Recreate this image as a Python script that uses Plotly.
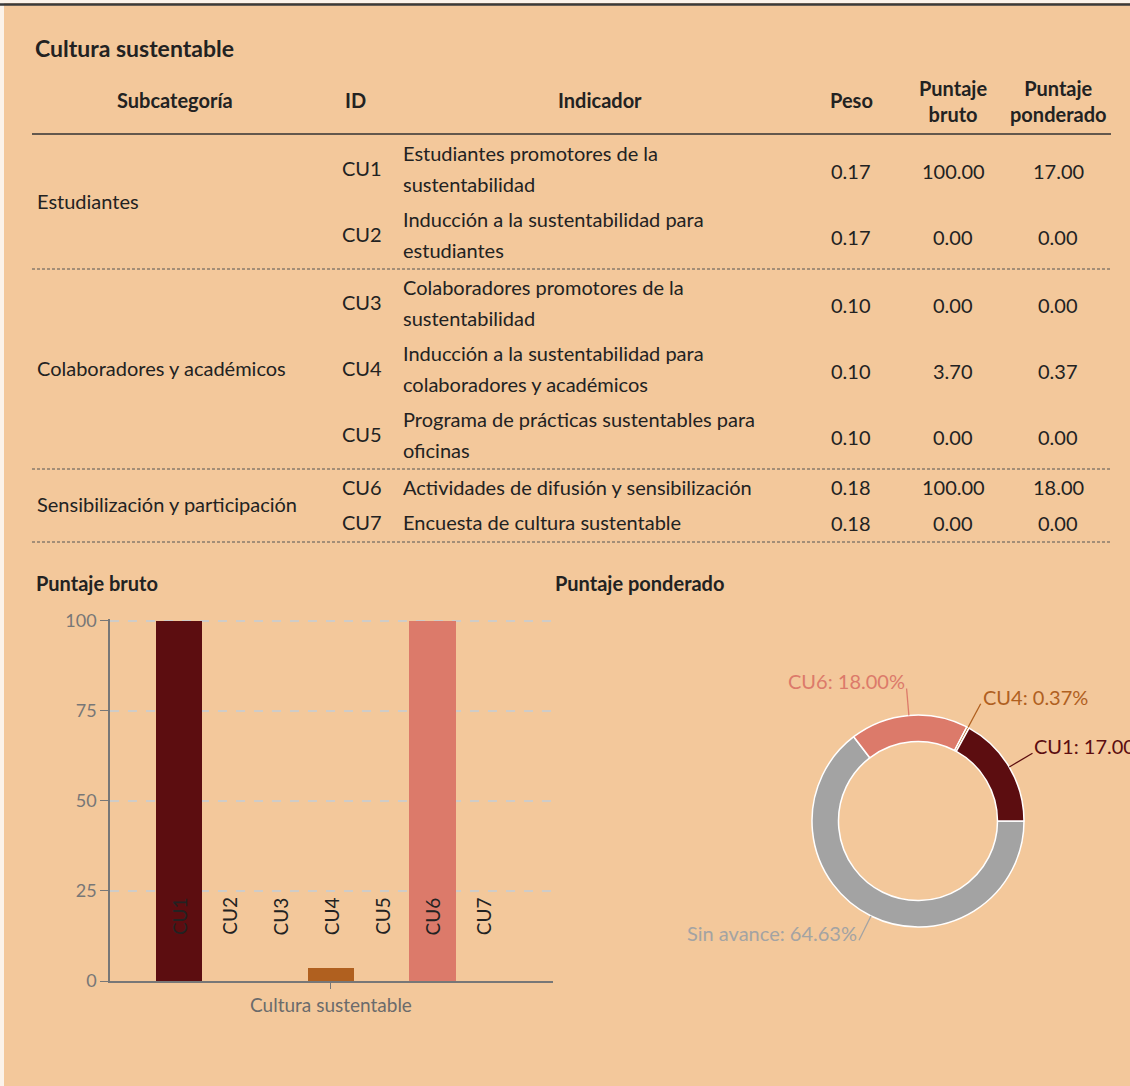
import math
import plotly.graph_objects as go

# ---------------- data ----------------
title = "Cultura sustentable"
headers = ["Subcategoría", "ID", "Indicador", "Peso", "Puntaje<br>bruto", "Puntaje<br>ponderado"]
subcategories = ["Estudiantes", "Colaboradores y académicos", "Sensibilización y participación"]
row_group = [0, 0, 1, 1, 1, 2, 2]
ids = ["CU1", "CU2", "CU3", "CU4", "CU5", "CU6", "CU7"]
indicators = [
    ["Estudiantes promotores de la", "sustentabilidad"],
    ["Inducción a la sustentabilidad para", "estudiantes"],
    ["Colaboradores promotores de la", "sustentabilidad"],
    ["Inducción a la sustentabilidad para", "colaboradores y académicos"],
    ["Programa de prácticas sustentables para", "oficinas"],
    ["Actividades de difusión y sensibilización"],
    ["Encuesta de cultura sustentable"],
]
peso = [0.17, 0.17, 0.10, 0.10, 0.10, 0.18, 0.18]
puntaje_bruto = [100.00, 0.00, 0.00, 3.70, 0.00, 100.00, 0.00]
puntaje_ponderado = [17.00, 0.00, 0.00, 0.37, 0.00, 18.00, 0.00]

bar_colors = ["#5C0D10", "#8E2A1E", "#C0472F", "#B0601F", "#D99A3E", "#DC7A6A", "#E8A98A"]
bar_category = "Cultura sustentable"
y_ticks = [0, 25, 50, 75, 100]

pie_labels = ["CU1", "CU4", "CU6", "Sin avance"]
pie_values = [17.00, 0.37, 18.00, 64.63]
pie_colors = ["#5C0D10", "#B0601F", "#DC7A6A", "#A3A3A3"]

# ---------------- layout helpers ----------------
W, H = 1130, 1086
BG = "#F3C89B"
FONT = "Lato"
TXT = "#222222"


def px(x):
    return x / W


def py(y):
    return 1 - y / H


annotations = []
shapes = []


def text(x, y, s, size=20, color=TXT, bold=False, xanchor="left", yanchor="middle", align="left"):
    if bold:
        s = "<b>" + s + "</b>"
    annotations.append(dict(
        x=px(x), y=py(y), xref="paper", yref="paper", text=s, showarrow=False,
        xanchor=xanchor, yanchor=yanchor, align=align,
        font=dict(family=FONT, size=size, color=color)))


def hline(y, x0, x1, color="#333333", width=1.5, dash="solid"):
    shapes.append(dict(type="line", xref="paper", yref="paper",
                       x0=px(x0), x1=px(x1), y0=py(y), y1=py(y),
                       line=dict(color=color, width=width, dash=dash)))


# page frame
shapes.append(dict(type="rect", xref="paper", yref="paper", x0=0, x1=px(4), y0=0, y1=1,
                   fillcolor="#FBF3EA", line=dict(width=0), layer="below"))
shapes.append(dict(type="rect", xref="paper", yref="paper", x0=0, x1=1, y0=py(3), y1=1,
                   fillcolor="#FBF3EA", line=dict(width=0), layer="below"))
hline(4.5, 0, W, color="#3a3a3a", width=2.5)

# ---------------- table ----------------
TL, TR = 32, 1111
col_x = {"sub": 175, "id": 340, "ind": 401, "peso": 851, "bruto": 953, "pond": 1058}

text(33, 48, title, size=23, bold=True)
text(col_x["sub"], 100, headers[0], bold=True, xanchor="center")
text(355, 100, headers[1], bold=True, xanchor="center")
text(600, 100, headers[2], bold=True, xanchor="center")
text(col_x["peso"], 100, headers[3], bold=True, xanchor="center")
text(col_x["bruto"], 101, "<b>Puntaje</b><br><b>bruto</b>", xanchor="center", align="center")
text(col_x["pond"], 101, "<b>Puntaje</b><br><b>ponderado</b>", xanchor="center", align="center")
hline(134, TL, TR, color="#333333", width=1.6)

cursor = 135
group_rows = {}
for i, rid in enumerate(ids):
    if i > 0 and row_group[i] != row_group[i - 1]:
        hline(cursor + 2, TL, TR, color="#555555", width=1, dash="3px,2px")
        cursor += 2
    h = 66 if len(indicators[i]) == 2 else 35
    yc = cursor + h / 2
    cursor += h
    group_rows.setdefault(row_group[i], []).append(yc)
    text(col_x["id"], yc, rid)
    if len(indicators[i]) == 2:
        text(col_x["ind"], yc - 15, indicators[i][0])
        text(col_x["ind"], yc + 16, indicators[i][1])
        yn = yc + 3
    else:
        text(col_x["ind"], yc, indicators[i][0])
        yn = yc + 1
    text(col_x["peso"], yn, f"{peso[i]:.2f}", xanchor="center")
    text(col_x["bruto"], yn, f"{puntaje_bruto[i]:.2f}", xanchor="center")
    text(col_x["pond"], yn, f"{puntaje_ponderado[i]:.2f}", xanchor="center")
hline(cursor + 3, TL, TR, color="#555555", width=1, dash="3px,2px")

for g, name in enumerate(subcategories):
    ys = group_rows[g]
    text(35, (ys[0] + ys[-1]) / 2, name)

# ---------------- section titles ----------------
text(34, 583, "Puntaje bruto", bold=True)
text(553, 583, "Puntaje ponderado", bold=True)

# ---------------- bar chart ----------------
xpos = list(range(len(ids)))
fig = go.Figure()
fig.add_trace(go.Bar(
    x=xpos, y=puntaje_bruto, marker=dict(color=bar_colors, line=dict(width=0)),
    width=0.92, showlegend=False, hoverinfo="skip"))

label_y = 18
for i, rid in enumerate(ids):
    annotations.append(dict(x=xpos[i], y=label_y, xref="x", yref="y", text=rid,
                            showarrow=False, textangle=-90,
                            font=dict(family=FONT, size=19, color=TXT)))

# ---------------- donut ----------------
# drawn clockwise from 3 o'clock in reversed order, which places the
# slices counter-clockwise from 3 o'clock in the original order
cx, cy, R = 918, 821, 106
fig.add_trace(go.Pie(
    labels=pie_labels[::-1], values=pie_values[::-1], hole=0.75, sort=False,
    direction="clockwise", rotation=90, textinfo="none",
    marker=dict(colors=pie_colors[::-1], line=dict(color="#FFFFFF", width=1.5)),
    domain=dict(x=[px(cx - R), px(cx + R)], y=[py(cy + R), py(cy - R)]),
    showlegend=False, hoverinfo="skip"))

total = sum(pie_values)
cum = 0.0
for lab, val, col in zip(pie_labels, pie_values, pie_colors):
    mid = (cum + val / 2) / total * 2 * math.pi
    cum += val
    x0, y0 = cx + R * math.cos(mid), cy - R * math.sin(mid)
    x1, y1 = cx + (R + 27) * math.cos(mid), cy - (R + 27) * math.sin(mid)
    shapes.append(dict(type="line", xref="paper", yref="paper",
                       x0=px(x0), y0=py(y0), x1=px(x1), y1=py(y1),
                       line=dict(color=col, width=1.3)))
    right = math.cos(mid) >= 0
    annotations.append(dict(
        x=px(x1), y=py(y1 + 7), xref="paper", yref="paper",
        text=f"{lab}: {val:.2f}%", showarrow=False,
        xanchor="left" if right else "right", yanchor="bottom",
        font=dict(family=FONT, size=20, color=col)))

fig.update_layout(
    width=W, height=H, margin=dict(l=0, r=0, t=0, b=0, pad=0, autoexpand=False),
    paper_bgcolor=BG, plot_bgcolor="rgba(0,0,0,0)",
    font=dict(family=FONT, color=TXT),
    xaxis=dict(domain=[px(110), px(553)], range=[-1.36, 7.38], automargin=False,
               tickvals=[3], ticktext=[bar_category], ticks="outside", ticklen=6,
               tickcolor="#777777", showline=True, linecolor="#777777", linewidth=1.5,
               showgrid=False, zeroline=False,
               tickfont=dict(family=FONT, size=19, color="#6b6b6b")),
    yaxis=dict(domain=[py(981), py(619)], range=[0, 100.5], tickvals=y_ticks, automargin=False,
               ticks="outside", ticklen=8, tickcolor="#777777",
               showline=True, linecolor="#777777", linewidth=1.5,
               showgrid=True, gridcolor="#CFCCC8", griddash="dash", gridwidth=1.6,
               zeroline=False, tickfont=dict(family=FONT, size=18, color="#777777")),
    bargap=0, annotations=annotations, shapes=shapes,
)

fig.write_html("out.html", config={"displayModeBar": False},
               post_script="document.body.style.margin='0';")
